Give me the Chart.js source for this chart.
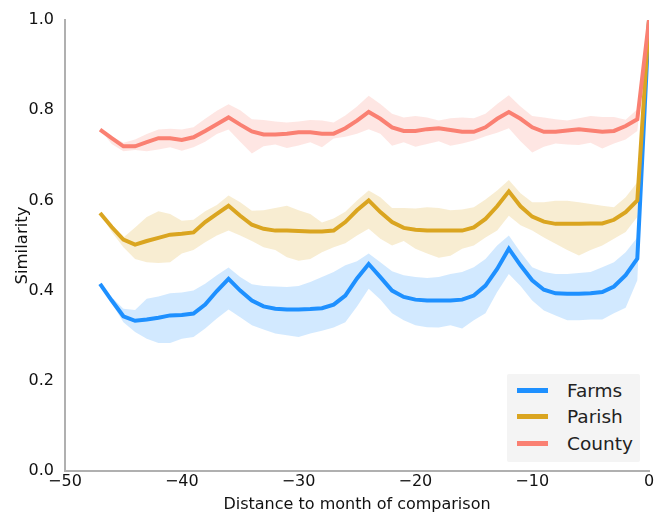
<!DOCTYPE html>
<html>
<head>
<meta charset="utf-8">
<script src="https://cdn.jsdelivr.net/npm/chart.js@4/dist/chart.umd.min.js"></script>
<style>
  body { margin: 0; background: #fff; font-family: "DejaVu Sans", sans-serif; }
  #wrap { position: relative; width: 662px; height: 513px; }
  #legend {
    position: absolute; left: 507px; top: 374px; width: 133px; height: 88px;
    background: #f4f4f4; border-radius: 2px; box-sizing: border-box; padding-top: 3px;
  }
  .item { display: flex; align-items: center; height: 26.5px; font-size: 18.5px; color: #222; }
  .swatch { width: 31px; height: 5px; margin-left: 10px; margin-right: 19px; }
</style>
</head>
<body>
<div id="wrap">
  <canvas id="chart" width="662" height="513"></canvas>
  <div id="legend"></div>
</div>
<script>
const months = [-47,-46,-45,-44,-43,-42,-41,-40,-39,-38,-37,-36,-35,-34,-33,-32,-31,-30,-29,-28,-27,-26,-25,-24,
  -23,-22,-21,-20,-19,-18,-17,-16,-15,-14,-13,-12,-11,-10,-9,-8,-7,-6,-5,-4,-3,-2,-1,0];

const farms = [0.415,0.378,0.343,0.333,0.336,0.340,0.345,0.346,0.349,0.369,0.399,0.426,0.400,0.378,0.365,0.360,
  0.358,0.358,0.359,0.361,0.369,0.389,0.427,0.459,0.430,0.400,0.386,0.380,0.378,0.378,0.378,0.380,0.389,0.411,
  0.448,0.493,0.456,0.423,0.402,0.394,0.393,0.393,0.394,0.397,0.409,0.434,0.471,1.0];
const farmsHi = [0.415,0.385,0.360,0.357,0.382,0.387,0.394,0.396,0.400,0.415,0.434,0.451,0.430,0.414,0.410,0.409,
  0.408,0.410,0.419,0.430,0.441,0.456,0.465,0.482,0.463,0.443,0.434,0.430,0.428,0.430,0.437,0.441,0.452,0.470,
  0.500,0.522,0.485,0.452,0.441,0.437,0.437,0.439,0.441,0.452,0.463,0.485,0.518,1.0];
const farmsLo = [0.415,0.372,0.330,0.308,0.293,0.284,0.284,0.293,0.297,0.316,0.338,0.358,0.341,0.323,0.314,0.305,
  0.301,0.297,0.305,0.311,0.318,0.330,0.365,0.404,0.380,0.350,0.334,0.323,0.319,0.318,0.323,0.316,0.334,0.350,
  0.397,0.437,0.410,0.378,0.356,0.345,0.334,0.334,0.336,0.336,0.350,0.362,0.423,1.0];

const parish = [0.572,0.541,0.513,0.502,0.510,0.517,0.524,0.526,0.529,0.552,0.570,0.588,0.566,0.546,0.537,0.533,
  0.533,0.532,0.531,0.531,0.533,0.552,0.578,0.600,0.574,0.552,0.539,0.535,0.533,0.533,0.533,0.533,0.540,0.559,
  0.587,0.620,0.587,0.564,0.553,0.548,0.548,0.548,0.549,0.549,0.557,0.574,0.600,1.0];
const parishHi = [0.572,0.545,0.518,0.540,0.563,0.576,0.570,0.555,0.557,0.576,0.590,0.611,0.596,0.577,0.578,0.583,
  0.588,0.578,0.570,0.551,0.560,0.575,0.600,0.622,0.607,0.583,0.583,0.582,0.585,0.583,0.578,0.580,0.585,0.602,
  0.622,0.645,0.616,0.596,0.596,0.599,0.599,0.596,0.592,0.588,0.585,0.607,0.640,1.0];
const parishLo = [0.572,0.530,0.496,0.470,0.463,0.461,0.463,0.482,0.490,0.507,0.522,0.533,0.522,0.510,0.496,0.490,
  0.474,0.466,0.470,0.485,0.496,0.505,0.522,0.537,0.515,0.500,0.510,0.493,0.482,0.473,0.477,0.493,0.500,0.518,
  0.533,0.566,0.545,0.533,0.518,0.504,0.490,0.478,0.490,0.500,0.515,0.530,0.563,1.0];

const county = [0.757,0.738,0.720,0.720,0.729,0.738,0.738,0.734,0.740,0.754,0.769,0.784,0.768,0.753,0.746,0.746,
  0.748,0.751,0.751,0.748,0.748,0.760,0.777,0.796,0.781,0.762,0.754,0.754,0.758,0.760,0.756,0.752,0.752,0.762,
  0.781,0.796,0.781,0.762,0.752,0.752,0.755,0.758,0.755,0.752,0.754,0.765,0.780,1.0];
const countyHi = [0.757,0.742,0.728,0.735,0.747,0.757,0.759,0.757,0.762,0.781,0.799,0.813,0.800,0.780,0.778,0.775,
  0.773,0.775,0.778,0.777,0.773,0.788,0.808,0.832,0.814,0.792,0.784,0.787,0.784,0.777,0.782,0.784,0.782,0.792,
  0.814,0.833,0.808,0.787,0.784,0.780,0.777,0.782,0.787,0.785,0.785,0.779,0.802,1.0];
const countyLo = [0.757,0.725,0.709,0.712,0.709,0.713,0.718,0.710,0.718,0.730,0.747,0.757,0.730,0.704,0.720,0.724,
  0.716,0.722,0.729,0.718,0.737,0.741,0.748,0.758,0.748,0.721,0.729,0.719,0.725,0.731,0.721,0.726,0.733,0.742,
  0.750,0.760,0.731,0.706,0.719,0.726,0.724,0.723,0.728,0.715,0.726,0.735,0.754,1.0];

const xTicks = [-50, -40, -30, -20, -10, 0];
const yTicks = [0.0, 0.2, 0.4, 0.6, 0.8, 1.0];

const series = [
  { label: 'Farms', values: farms, hi: farmsHi, lo: farmsLo, color: '#1e90ff', band: 'rgba(30,144,255,0.2)' },
  { label: 'Parish', values: parish, hi: parishHi, lo: parishLo, color: '#daa520', band: 'rgba(218,165,32,0.2)' },
  { label: 'County', values: county, hi: countyHi, lo: countyLo, color: '#fa8072', band: 'rgba(250,128,114,0.2)' }
];

const pts = arr => arr.map((v, i) => ({ x: months[i], y: v }));

const datasets = [];
series.forEach(s => {
  datasets.push({ data: pts(s.hi), borderWidth: 0, borderColor: 'transparent', pointRadius: 0, fill: false, order: 5 });
  datasets.push({ data: pts(s.lo), borderWidth: 0, borderColor: 'transparent', pointRadius: 0, fill: '-1', backgroundColor: s.band, order: 5 });
});
series.forEach((s, i) => {
  datasets.push({ label: s.label, data: pts(s.values), borderColor: s.color, borderWidth: 4, pointRadius: 0, fill: false, order: 3 - i });
});

const minus = v => String(v).replace('-', '\u2212');

new Chart(document.getElementById('chart'), {
  type: 'line',
  data: { datasets },
  options: {
    responsive: false,
    animation: false,
    layout: { padding: { top: 20, right: 13, left: 0, bottom: 0 } },
    plugins: { legend: { display: false }, tooltip: { enabled: false } },
    scales: {
      x: {
        type: 'linear', min: -50, max: 0,
        afterBuildTicks: sc => { sc.ticks = xTicks.map(v => ({ value: v })); },
        afterFit: sc => { sc.height = 42; },
        grid: { display: false },
        border: { display: true, color: '#b0b0b0', width: 2 },
        ticks: { color: '#111', font: { family: 'DejaVu Sans', size: 16, lineHeight: 1 }, padding: -5, maxRotation: 0, callback: v => minus(v) },
        title: { display: true, text: 'Distance to month of comparison', color: '#111', font: { family: 'DejaVu Sans', size: 16, lineHeight: 1 }, padding: { top: 0, bottom: 0 } }
      },
      y: {
        min: 0, max: 1,
        afterBuildTicks: sc => { sc.ticks = yTicks.map(v => ({ value: v })); },
        afterFit: sc => { sc.width = 65; },
        grid: { display: false },
        border: { display: true, color: '#b0b0b0', width: 2 },
        ticks: { color: '#111', font: { family: 'DejaVu Sans', size: 16 }, padding: 3, callback: v => v.toFixed(1) },
        title: { display: true, text: 'Similarity', color: '#111', font: { family: 'DejaVu Sans', size: 16.5, lineHeight: 1 }, padding: { top: 14, bottom: 0 } }
      }
    }
  }
});

// legend box in the lower right corner
const legend = document.getElementById('legend');
legend.innerHTML = series.map(s => `
  <div class="item"><span class="swatch" style="background:${s.color}"></span>${s.label}</div>
`).join('');
</script>
</body>
</html>
